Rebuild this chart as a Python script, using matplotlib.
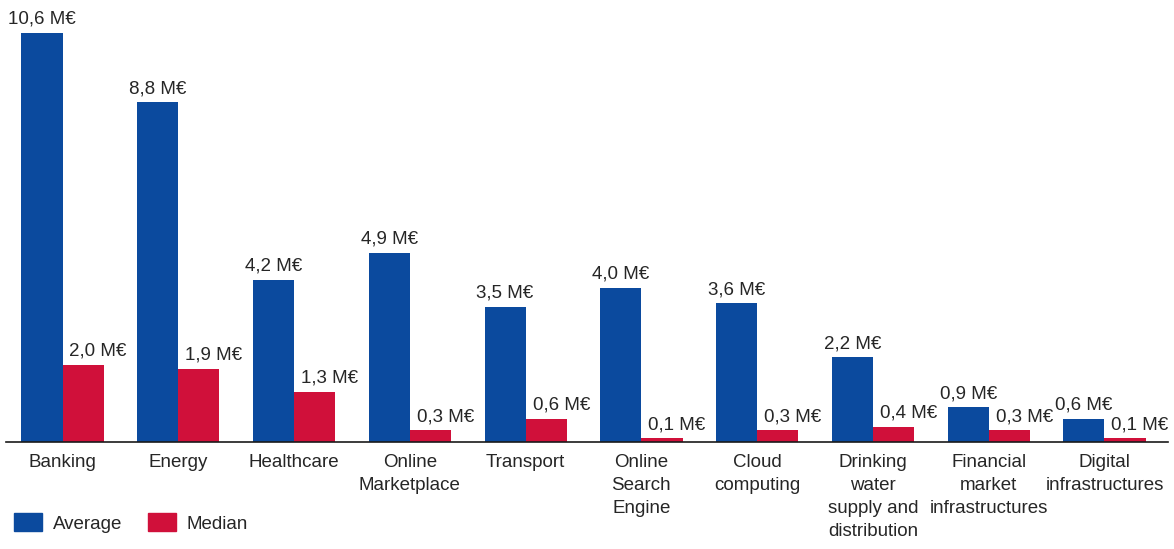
import numpy as np
import matplotlib.pyplot as plt
from matplotlib.patches import Patch

plt.rcParams.update({"font.family": ["Liberation Sans", "DejaVu Sans"]})

# -----------------------------
# Data
# -----------------------------
sectors = [
    "Banking",
    "Energy",
    "Healthcare",
    "Online\nMarketplace",
    "Transport",
    "Online\nSearch\nEngine",
    "Cloud\ncomputing",
    "Drinking\nwater\nsupply and\ndistribution",
    "Financial\nmarket\ninfrastructures",
    "Digital\ninfrastructures",
]
average = [10.6, 8.8, 4.2, 4.9, 3.5, 4.0, 3.6, 2.2, 0.9, 0.6]
median = [2.0, 1.9, 1.3, 0.3, 0.6, 0.1, 0.3, 0.4, 0.3, 0.1]

BLUE = "#0b4a9e"
RED = "#d0103a"
TEXT = "#262626"
FS = 13.5


def _fmt(v: float) -> str:
    return f"{v:.1f}".replace(".", ",") + " M€"


# -----------------------------
# Plot
# -----------------------------
fig = plt.figure(figsize=(11.74, 5.49), dpi=100)
ax = fig.add_axes([0.005, 0.195, 0.99, 0.805])

x = np.arange(len(sectors))
w = 0.355
ax.bar(x - w / 2, average, width=w, color=BLUE, zorder=2)
ax.bar(x + w / 2, median, width=w, color=RED, zorder=2)

for xi, v in zip(x, average):
    ax.annotate(_fmt(v), (xi - w / 2, v), xytext=(0, 5), textcoords="offset pixels",
                ha="center", va="bottom", fontsize=FS, color=TEXT)
for xi, v in zip(x, median):
    ax.annotate(_fmt(v), (xi + w / 2, v), xytext=(15, 5), textcoords="offset pixels",
                ha="center", va="bottom", fontsize=FS, color=TEXT)

ax.set_xlim(-0.49, 9.55)
ax.set_ylim(0, 10.6 * 442 / 409)

ax.set_xticks(x)
ax.set_xticklabels(sectors, fontsize=FS, color=TEXT, linespacing=1.45)
ax.tick_params(axis="x", length=0, pad=9)
ax.set_yticks([])

for s in ["top", "right", "left"]:
    ax.spines[s].set_visible(False)
ax.spines["bottom"].set_color("#1a1a1a")
ax.spines["bottom"].set_linewidth(1.2)

handles = [Patch(color=BLUE, label="Average"), Patch(color=RED, label="Median")]
fig.legend(handles=handles, loc="lower left", bbox_to_anchor=(0.012, 0.03), ncol=2,
           frameon=False, fontsize=FS, handlelength=1.5, handleheight=1.05,
           handletextpad=0.55, columnspacing=1.37, labelcolor=TEXT,
           borderpad=0, borderaxespad=0)

fig.savefig("out.png", dpi=100)
